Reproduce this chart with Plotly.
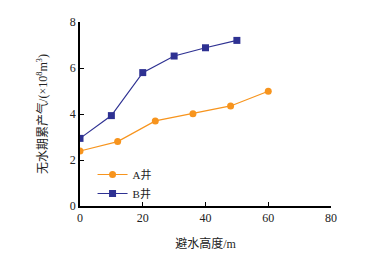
import plotly.graph_objects as go

a_x = [0, 12, 24, 36, 48, 60]
a_y = [2.39, 2.80, 3.70, 4.01, 4.35, 4.99]
b_x = [0, 10, 20, 30, 40, 50]
b_y = [2.94, 3.93, 5.80, 6.52, 6.88, 7.20]
x_ticks = [0, 20, 40, 60, 80]
y_ticks = [0, 2, 4, 6, 8]

font_main = "Liberation Serif, Noto Sans CJK SC"

fig = go.Figure()
fig.add_trace(go.Scatter(x=a_x, y=a_y, mode="lines+markers", name="A井",
                         line=dict(color="#F7941D", width=1.2),
                         marker=dict(symbol="circle", size=7, color="#F7941D")))
fig.add_trace(go.Scatter(x=b_x, y=b_y, mode="lines+markers", name="B井",
                         line=dict(color="#2E3192", width=1.2),
                         marker=dict(symbol="square", size=7, color="#2E3192")))

fig.update_layout(
    width=363, height=249,
    margin=dict(l=72, r=40, t=14, b=51, autoexpand=False),
    paper_bgcolor="white", plot_bgcolor="white",
    font=dict(family=font_main, size=12, color="#222"),
    showlegend=True,
    legend=dict(x=0.05, y=0.25, xanchor="left", yanchor="top",
                bgcolor="rgba(0,0,0,0)", font=dict(size=11),
                itemwidth=30, tracegroupgap=0),
    xaxis=dict(range=[0, 80], tickvals=x_ticks, showline=True, linecolor="black",
               linewidth=1.5, ticks="inside", ticklen=4, tickcolor="black",
               showgrid=False, zeroline=False, automargin=False,
               title=dict(text="避水高度/m", standoff=15, font=dict(size=12))),
    yaxis=dict(range=[0, 8], tickvals=y_ticks, showline=True, linecolor="black",
               linewidth=1.5, ticks="inside", ticklen=4, tickcolor="black",
               showgrid=False, zeroline=False, automargin=False,
               title=dict(text="无水期累产气/(×10<sup>8</sup>m<sup>3</sup>)", standoff=20,
                          font=dict(size=12))),
)

fig.write_html("out.html")
